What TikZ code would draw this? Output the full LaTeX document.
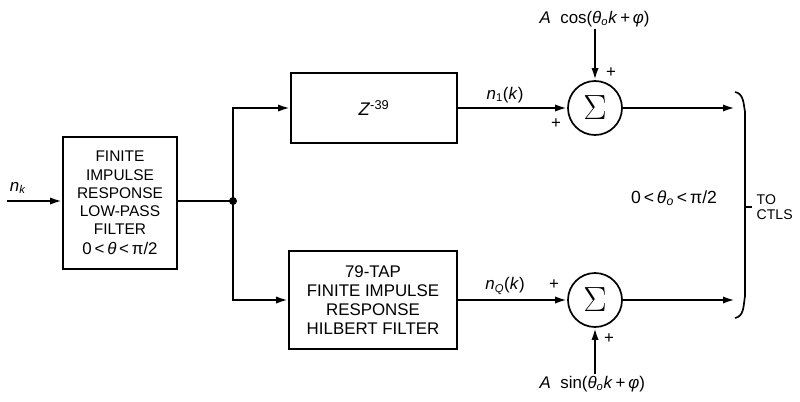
\documentclass[tikz,border=0pt]{standalone}
\usepackage{fontspec}
\setmainfont{Liberation Sans}
\usetikzlibrary{arrows.meta,positioning}

\newcommand{\iv}[1]{\textit{#1}}

\begin{document}
\begin{tikzpicture}[x=0.025cm, y=-0.025cm,
    box/.style={rectangle, draw, line width=1.2pt, align=center, inner sep=0pt, font=\fontsize{11}{13}\selectfont},
    sumnode/.style={circle, draw, line width=1.2pt, minimum size=1.35cm, inner sep=0pt, font=\Huge},
    arrow/.style={-{Latex[length=3mm,width=1.8mm]}, line width=1.6pt},
    wire/.style={line width=1.6pt},
    lbl/.style={font=\fontsize{12}{13}\selectfont, inner sep=1pt},
    sign/.style={font=\fontsize{12}{12}\selectfont, inner sep=0pt}
]
\useasboundingbox (0,0) rectangle (800,401);

% blocks
\node[box, minimum width=2.85cm, minimum height=3.3cm] (lpf) at (120,203)
  {FINITE\\IMPULSE\\RESPONSE\\LOW-PASS\\FILTER\\[1pt]{\fontsize{12}{13}\selectfont0\,<\,\iv{θ}\,<\,π/2}};
\node[box, minimum width=4.15cm, minimum height=1.75cm] (delay) at (374,108)
  {\fontsize{13}{14}\selectfont\iv{Z}\textsuperscript{-39}};
\node[box, minimum width=4.2cm, minimum height=2.45cm, font=\fontsize{12}{13.5}\selectfont] (hilb) at (373,300)
  {79-TAP\\FINITE IMPULSE\\RESPONSE\\HILBERT FILTER};
\node[sumnode] (sumI) at (595,108) {$\Sigma$};
\node[sumnode] (sumQ) at (595,300) {$\Sigma$};

% input, split and signal labels
\coordinate (in) at (7,201);
\coordinate (split) at (233,201);
\node[lbl] (nk) at (18,188) {\iv{n}\textsubscript{\iv{k}}};
\node[lbl, anchor=west] (cosin) at (538,19) {\iv{A}~~cos(\iv{θ}\textsubscript{\iv{o}}\iv{k}\,+\,\iv{φ})};
\node[lbl, anchor=west] (sinin) at (538,384) {\iv{A}~~sin(\iv{θ}\textsubscript{\iv{o}}\iv{k}\,+\,\iv{φ})};
\node[lbl] (n1) at (505,95) {\iv{n}\textsubscript{1}(\iv{k})};
\node[lbl] (nq) at (505,286) {\iv{n}\textsubscript{\iv{Q}}(\iv{k})};

% adder signs
\node[sign] (p1) at (556,124) {+};
\node[sign] (p2) at (611,73) {+};
\node[sign] (p3) at (554,285) {+};
\node[sign] (p4) at (609,339) {+};

% connections
\draw[arrow] (in) -- (lpf.west |- in);
\draw[wire] (lpf.east |- split) -- (split);
\fill (split) circle (4);
\draw[arrow] (split) |- (delay.west);
\draw[arrow] (split) |- (hilb.west);
\draw[arrow] (delay.east) -- (sumI.west);
\draw[arrow] (hilb.east |- sumQ) -- (sumQ.west);
\draw[arrow] (cosin.south -| sumI) -- (sumI.north);
\draw[arrow] (sinin.north -| sumQ) -- (sumQ.south);

% outputs to bracket
\coordinate (outI) at (735,108);
\coordinate (outQ) at (735,300);
\draw[arrow] (sumI.east) -- (outI);
\draw[arrow] (sumQ.east) -- (outQ);
\draw[line width=1.2pt] (735,92) to[out=-10,in=100] (745,112) -- (745,296) to[out=-100,in=10] (735,318);
\draw[line width=1.2pt] (745,207) -- (752,207);
\node[lbl, anchor=west, align=left, font=\fontsize{10}{11}\selectfont] (ctls) at (755,207) {TO\\CTLS};
\node[lbl, font=\fontsize{12.5}{13}\selectfont] (range) at (674,198) {0\,<\,\iv{θ}\textsubscript{\iv{o}}\,<\,π/2};
\end{tikzpicture}
\end{document}
